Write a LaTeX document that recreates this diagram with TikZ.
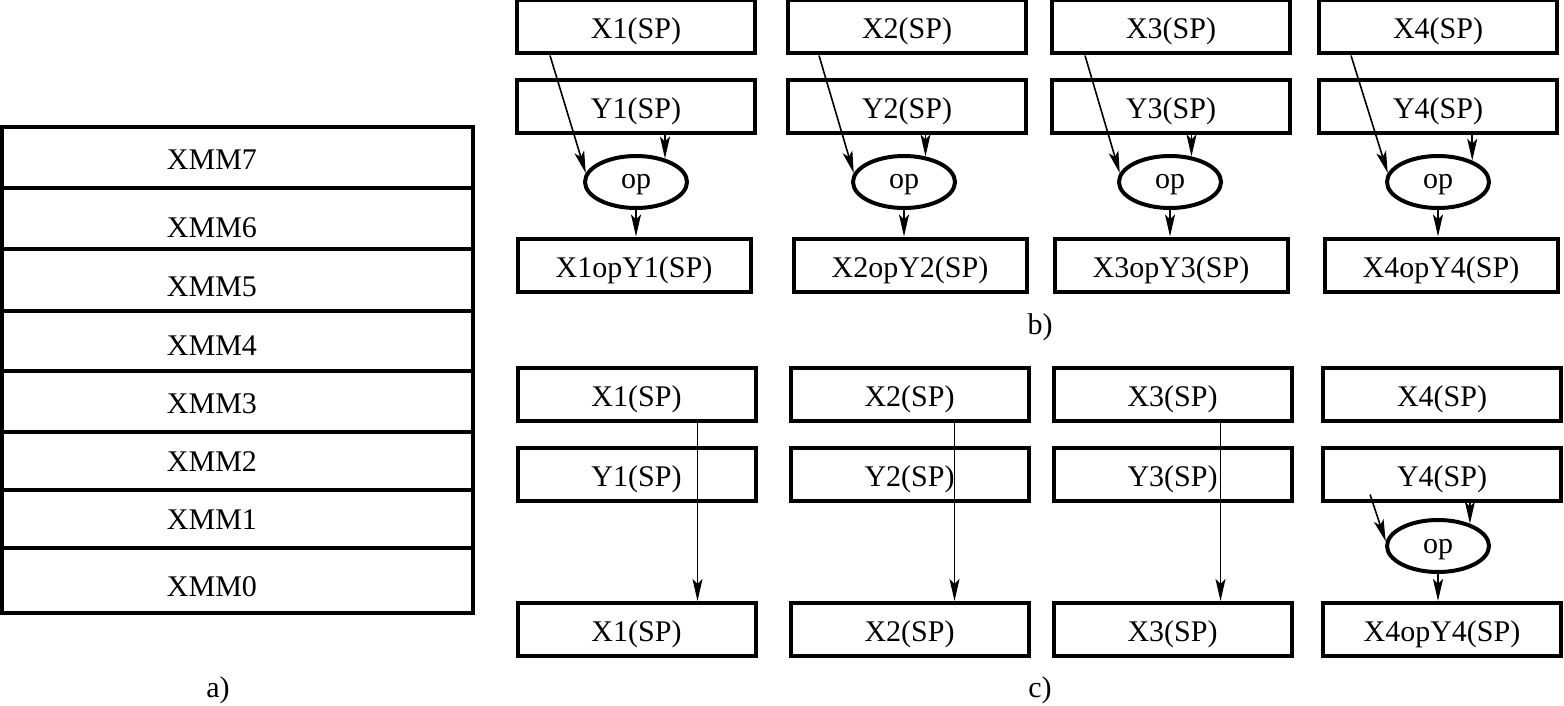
\documentclass[tikz,border=0pt]{standalone}
\usepackage{fontspec}
\setmainfont{Liberation Serif}
\usetikzlibrary{shapes.geometric,arrows.meta,calc}
\begin{document}
\begin{tikzpicture}[x=0.5pt,y=-0.5pt,
  every node/.style={font=\fontsize{15}{18}\selectfont},
  box/.style={draw,line width=2pt,minimum width=119pt,minimum height=26.5pt,inner sep=0pt,text height=15pt,text depth=3pt},
  rbox/.style={box,minimum width=116.5pt},
  opnode/.style={ellipse,draw,line width=2pt,minimum width=51pt,minimum height=26pt,inner sep=0pt,text height=10pt,text depth=3pt},
  arr/.style={line width=0.8pt,-{Stealth[length=11pt,width=5pt,inset=2.5pt]}},
  cell/.style={draw,line width=2pt,minimum width=235.5pt,inner sep=0pt},
]
\useasboundingbox (0,0) rectangle (1564,706);

% ---------- a) ----------
\node[cell,minimum height=30.5pt] (m7) at (237.5,157.5) {};
\node[cell,minimum height=30.5pt] (m6) at (237.5,218.5) {};
\node[cell,minimum height=31pt]   (m5) at (237.5,280) {};
\node[cell,minimum height=30pt]   (m4) at (237.5,341) {};
\node[cell,minimum height=30.5pt] (m3) at (237.5,401.5) {};
\node[cell,minimum height=29pt]   (m2) at (237.5,461) {};
\node[cell,minimum height=29pt]   (m1) at (237.5,519) {};
\node[cell,minimum height=32.5pt] (m0) at (237.5,580.5) {};
\node (t7) at (212,160) {XMM7};
\node (t6) at (212,228) {XMM6};
\node (t5) at (212,287) {XMM5};
\node (t4) at (212,346) {XMM4};
\node (t3) at (212,404) {XMM3};
\node (t2) at (212,462) {XMM2};
\node (t1) at (212,520) {XMM1};
\node (t0) at (212,587) {XMM0};
\node (la) at (218,690) {a)};

% ---------- b) ----------
\node[box] (bx1) at (636,27) {X1(SP)};
\node[box] (by1) at (636,106.5) {Y1(SP)};
\node[opnode] (bo1) at (636,182) {op};
\node[rbox] (br1) at (634,265) {X1opY1(SP)};

\node[box] (bx2) at (907,27) {X2(SP)};
\node[box] (by2) at (907,106.5) {Y2(SP)};
\node[opnode] (bo2) at (904,182) {op};
\node[rbox] (br2) at (910,265) {X2opY2(SP)};

\node[box] (bx3) at (1171,27) {X3(SP)};
\node[box] (by3) at (1171,106.5) {Y3(SP)};
\node[opnode] (bo3) at (1170,182) {op};
\node[rbox] (br3) at (1171,265) {X3opY3(SP)};

\node[box] (bx4) at (1438,27) {X4(SP)};
\node[box] (by4) at (1438,106.5) {Y4(SP)};
\node[opnode] (bo4) at (1438,182) {op};
\node[rbox] (br4) at (1441,265) {X4opY4(SP)};

\draw[arr] ($(bx1.south west)+(35,0)$) -- (bo1.170);
\draw[arr] ($(bx2.south west)+(33,0)$) -- (bo2.170);
\draw[arr] ($(bx3.south west)+(35,0)$) -- (bo3.170);
\draw[arr] ($(bx4.south west)+(34,0)$) -- (bo4.170);
\draw[arr] (bo1.39 |- by1.south) -- (bo1.39);
\draw[arr] (bo2.50 |- by2.south) -- (bo2.50);
\draw[arr] (bo3.50 |- by3.south) -- (bo3.50);
\draw[arr] (bo4.32 |- by4.south) -- (bo4.32);
\draw[arr] (bo1.south) -- (bo1.south |- br1.north);
\draw[arr] (bo2.south) -- (bo2.south |- br2.north);
\draw[arr] (bo3.south) -- (bo3.south |- br3.north);
\draw[arr] (bo4.south) -- (bo4.south |- br4.north);
\node (lb) at (1040,327) {b)};

% ---------- c) ----------
\node[box] (cx1) at (636.5,394.5) {X1(SP)};
\node[box] (cy1) at (636.5,474) {Y1(SP)};
\node[box] (cr1) at (636.5,629.5) {X1(SP)};

\node[box] (cx2) at (909.5,394.5) {X2(SP)};
\node[box] (cy2) at (909.5,474) {Y2(SP)};
\node[box] (cr2) at (909.5,629.5) {X2(SP)};

\node[box] (cx3) at (1172.5,394.5) {X3(SP)};
\node[box] (cy3) at (1172.5,474) {Y3(SP)};
\node[box] (cr3) at (1172.5,629.5) {X3(SP)};

\node[box] (cx4) at (1442,394.5) {X4(SP)};
\node[box] (cy4) at (1442,474) {Y4(SP)};
\node[opnode] (co4) at (1438,546) {op};
\node[box] (cr4) at (1442,629.5) {X4opY4(SP)};

\coordinate (s1) at ($(cx1.south west)+(182,0)$);
\coordinate (s2) at ($(cx2.south west)+(166,0)$);
\coordinate (s3) at ($(cx3.south west)+(169,0)$);
\draw[arr] (s1) -- (s1 |- cr1.north);
\draw[arr] (s2) -- (s2 |- cr2.north);
\draw[arr] (s3) -- (s3 |- cr3.north);

\coordinate (s4) at ($(cy4.south west)+(49,-8)$);
\draw[arr] (s4) -- (co4.175);
\draw[arr] (co4.35 |- cy4.south) -- (co4.35);
\draw[arr] (co4.south) -- (co4.south |- cr4.north);
\node (lc) at (1040,690) {c)};
\end{tikzpicture}
\end{document}
